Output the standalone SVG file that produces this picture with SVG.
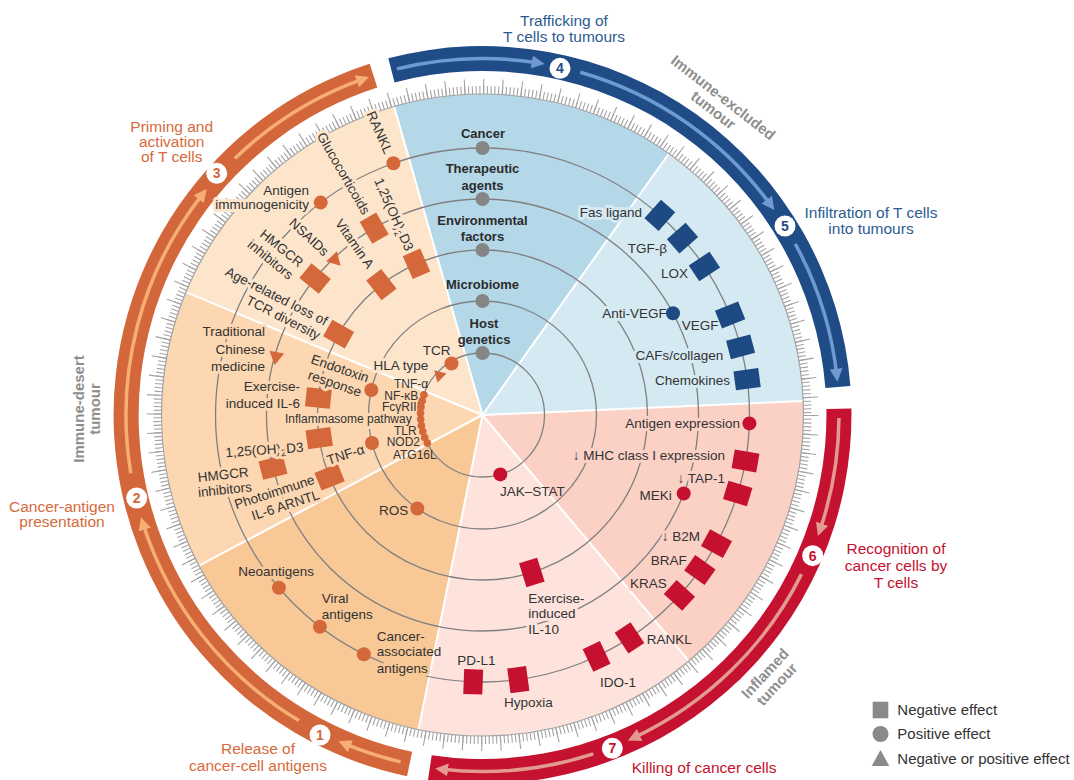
<svg xmlns="http://www.w3.org/2000/svg" width="1074" height="780" viewBox="0 0 1074 780">
<defs>
<style>
text{font-family:"Liberation Sans",Arial,sans-serif}
.l{font-size:13.5px;fill:#333}
.lc{font-size:12px;fill:#333;text-anchor:end}
.h{paint-order:stroke;stroke-width:6px;stroke-linejoin:round}
.hlp{stroke:#fde5cc}.hmp{stroke:#fcd7b1}.hdp{stroke:#f9c897}.hlpk{stroke:#fde3dc}.hpk{stroke:#fbd0c5}.hlb{stroke:#d5e9f2}
.rb{font-size:13px;font-weight:bold;fill:#2b2b2b;text-anchor:middle}
.ring{fill:none;stroke:#808080;stroke-width:1.3}
.o{fill:#d4683a}.n{fill:#1e4a84}.r{fill:#c5112f}.g{fill:#858585}
.wl{stroke:#fff;stroke-width:2}
.po{fill:#d66a3c;font-size:15.5px;text-anchor:middle}
.pb{fill:#2c5b93;font-size:15.5px;text-anchor:middle}
.pr{fill:#c5112f;font-size:15.5px;text-anchor:middle}
.prs{fill:#c5112f;font-size:15.5px}
.tm{fill:#8e8e8e;font-size:15px;font-weight:bold;text-anchor:middle}
.num{font-size:14px;font-weight:bold;text-anchor:middle}
.lgt{font-size:15px;fill:#333}
.lo{fill:none;stroke:#f6ae72;stroke-width:3.5}
.lb{fill:none;stroke:#6f9ad0;stroke-width:3.5}
.lr{fill:none;stroke:#e39a8f;stroke-width:3.5}
</style>
<marker id="mo" viewBox="0 0 10 10" refX="6" refY="5" markerWidth="13" markerHeight="13" markerUnits="userSpaceOnUse" orient="auto"><path d="M0,0 L10,5 L0,10 Z" fill="#f6ae72"/></marker>
<marker id="mb" viewBox="0 0 10 10" refX="6" refY="5" markerWidth="13" markerHeight="13" markerUnits="userSpaceOnUse" orient="auto"><path d="M0,0 L10,5 L0,10 Z" fill="#6f9ad0"/></marker>
<marker id="mr" viewBox="0 0 10 10" refX="6" refY="5" markerWidth="13" markerHeight="13" markerUnits="userSpaceOnUse" orient="auto"><path d="M0,0 L10,5 L0,10 Z" fill="#e39a8f"/></marker>
<rect id="sq" x="-12.5" y="-9.5" width="25" height="19"/>
<path id="tri" d="M0,-8 L7.5,5 L-7.5,5 Z"/>
</defs>
<rect width="1074" height="780" fill="#fff"/>

<g id="sectors">
<path d="M482.5,415 L185.9,292.2 A321,321 0 0 1 394.0,106.4 Z" fill="#fde5cc"/>
<path d="M482.5,415 L394.0,106.4 A321,321 0 0 1 668.9,153.7 Z" fill="#b5d8e9"/>
<path d="M482.5,415 L668.9,153.7 A321,321 0 0 1 803.2,401.0 Z" fill="#d5e9f2"/>
<path d="M482.5,415 L803.2,401.0 A321,321 0 0 1 688.8,660.9 Z" fill="#fbd0c5"/>
<path d="M482.5,415 L688.8,660.9 A321,321 0 0 1 418.5,729.5 Z" fill="#fde3dc"/>
<path d="M482.5,415 L418.5,729.5 A321,321 0 0 1 199.1,565.7 Z" fill="#f9c897"/>
<path d="M482.5,415 L199.1,565.7 A321,321 0 0 1 185.9,292.2 Z" fill="#fcd7b1"/>
<g class="wl">
<line x1="482.5" y1="415" x2="185.9" y2="292.2"/><line x1="482.5" y1="415" x2="394.0" y2="106.4"/>
<line x1="482.5" y1="415" x2="668.9" y2="153.7"/><line x1="482.5" y1="415" x2="803.2" y2="401.0"/>
<line x1="482.5" y1="415" x2="688.8" y2="660.9"/><line x1="482.5" y1="415" x2="418.5" y2="729.5"/>
<line x1="482.5" y1="415" x2="199.1" y2="565.7"/>
</g>
</g>

<g id="ticks" fill="none" stroke="#a3a3a3">
<circle cx="482.5" cy="415" r="321" stroke-width="1.2"/>
<circle cx="482.5" cy="415" r="325" stroke-width="8" stroke-dasharray="1.1 2.6815"/>
<circle cx="482.5" cy="415" r="328.5" stroke-width="15" stroke-dasharray="1.1 18.0114"/>
</g>

<g id="bands">
<path id="band-orange" d="M407.0,776.2 A369,369 0 0 1 369.7,63.7 L377.3,87.5 A344,344 0 0 0 412.2,751.7 Z" fill="#d3673b"/>
<path id="band-blue" d="M388.3,58.3 A369,369 0 0 1 850.4,386.0 L825.4,388.0 A344,344 0 0 0 394.6,82.4 Z" fill="#1f4c86"/>
<path id="band-red" d="M851.4,408.6 A369,369 0 0 1 428.0,779.9 L431.7,755.2 A344,344 0 0 0 826.4,409.0 Z" fill="#c51230"/>
</g>

<g id="connectors">
<circle class="ring" cx="482.5" cy="415" r="267"/>
<circle class="ring" cx="482.5" cy="415" r="216"/>
<circle class="ring" cx="482.5" cy="415" r="165"/>
<circle class="ring" cx="482.5" cy="415" r="114"/>
<circle class="ring" cx="482.5" cy="415" r="62"/>
<path class="lo" marker-end="url(#mo)" d="M400.5,761.9 A356.5,356.5 0 0 1 343.2,743.2"/>
<path class="lo" marker-end="url(#mo)" d="M298.9,720.6 A356.5,356.5 0 0 1 142.5,522.2"/>
<path class="lo" marker-end="url(#mo)" d="M130.8,473.2 A356.5,356.5 0 0 1 203.5,193.1"/>
<path class="lo" marker-end="url(#mo)" d="M234.8,158.6 A356.5,356.5 0 0 1 364.1,78.7"/>
<path class="lb" marker-end="url(#mb)" d="M396.9,68.9 A356.5,356.5 0 0 1 539.5,63.1"/>
<path class="lb" marker-end="url(#mb)" d="M580.2,72.2 A356.5,356.5 0 0 1 771.3,205.9"/>
<path class="lb" marker-end="url(#mb)" d="M795.2,243.8 A356.5,356.5 0 0 1 836.9,376.5"/>
<path class="lr" marker-end="url(#mr)" d="M839.0,418.1 A356.5,356.5 0 0 1 819.6,531.1"/>
<path class="lr" marker-end="url(#mr)" d="M801.5,574.1 A356.5,356.5 0 0 1 632.6,738.3"/>
<path class="lr" marker-end="url(#mr)" d="M593.3,753.9 A356.5,356.5 0 0 1 440.3,769.0"/>
</g>

<g id="steps">
<g id="step1"><circle cx="320" cy="735" r="10.5" fill="#fff"/><text class="num" x="320" y="740" fill="#d3673b">1</text></g>
<g id="step2"><circle cx="136.7" cy="498" r="10.5" fill="#fff"/><text class="num" x="136.7" y="503" fill="#d3673b">2</text></g>
<g id="step3"><circle cx="216.7" cy="173.3" r="10.5" fill="#fff"/><text class="num" x="216.7" y="178.3" fill="#d3673b">3</text></g>
<g id="step4"><circle cx="560" cy="68.3" r="10.5" fill="#fff"/><text class="num" x="560" y="73.3" fill="#1f4c86">4</text></g>
<g id="step5"><circle cx="785" cy="226" r="10.5" fill="#fff"/><text class="num" x="785" y="231" fill="#1f4c86">5</text></g>
<g id="step6"><circle cx="812.7" cy="555.7" r="10.5" fill="#fff"/><text class="num" x="812.7" y="560.7" fill="#c51230">6</text></g>
<g id="step7"><circle cx="612.3" cy="748.3" r="10.5" fill="#fff"/><text class="num" x="612.3" y="753.3" fill="#c51230">7</text></g>
</g>

<g id="phase-labels">
<text class="po" x="171.7" y="131.5">Priming and</text>
<text class="po" x="171.7" y="147.2">activation</text>
<text class="po" x="171.7" y="162.2">of T cells</text>
<text class="po" x="62" y="511.5">Cancer-antigen</text>
<text class="po" x="62" y="527.2">presentation</text>
<text class="po" x="258" y="753.8">Release of</text>
<text class="po" x="258" y="770.5">cancer-cell antigens</text>
<text class="pb" x="564" y="26.2">Trafficking of</text>
<text class="pb" x="564" y="42.2">T cells to tumours</text>
<text class="pb" x="871" y="217.8">Infiltration of T cells</text>
<text class="pb" x="871" y="233.8">into tumours</text>
<text class="pr" x="896" y="553.8">Recognition of</text>
<text class="pr" x="896" y="571.2">cancer cells by</text>
<text class="pr" x="896" y="588.2">T cells</text>
<text class="prs" x="631.7" y="773.2">Killing of cancer cells</text>
<text class="tm" transform="translate(78.3,409) rotate(-90)" dy=".35em">Immune-desert</text>
<text class="tm" transform="translate(94.3,409) rotate(-90)" dy=".35em">tumour</text>
<g class="tm" transform="translate(723.3,97.5) rotate(38)"><text dy=".35em">Immune-excluded</text><text y="16" dy=".35em">tumour</text></g>
<g class="tm" transform="translate(765,673.3) rotate(-47)"><text dy=".35em">Inflamed</text><text y="16" dy=".35em">tumour</text></g>
</g>

<g id="ring-labels">
<g id="ring-cancer"><text class="rb" x="483" y="138">Cancer</text><circle class="g" cx="482.5" cy="148" r="7"/></g>
<g id="ring-therapeutic"><text class="rb" x="482.5" y="173">Therapeutic</text><text class="rb" x="482.5" y="189.7">agents</text><circle class="g" cx="482.5" cy="199" r="7"/></g>
<g id="ring-environmental"><text class="rb" x="482.5" y="224.7">Environmental</text><text class="rb" x="482.5" y="241.3">factors</text><circle class="g" cx="482.5" cy="250" r="7"/></g>
<g id="ring-microbiome"><text class="rb" x="482.5" y="288.5">Microbiome</text><circle class="g" cx="482.5" cy="301" r="7"/></g>
<g id="ring-host"><text class="rb" x="484" y="328">Host</text><text class="rb" x="484" y="344">genetics</text><circle class="g" cx="482.5" cy="353" r="7"/></g>
</g>

<g id="nodes">
<g id="fas-ligand"><text class="l h hlb" x="642" y="217" text-anchor="end">Fas ligand</text><use href="#sq" class="n" transform="translate(659.8,215.3) rotate(-48.4)"/></g>
<g id="tgf-beta"><text class="l h hlb" x="667" y="253" text-anchor="end">TGF-β</text><use href="#sq" class="n" transform="translate(682.5,238.1) rotate(-41.5)"/></g>
<g id="lox"><text class="l h hlb" x="688" y="278" text-anchor="end">LOX</text><use href="#sq" class="n" transform="translate(704.4,266.5) rotate(-33.8)"/></g>
<g id="vegf"><text class="l h hlb" x="681.7" y="329.7">VEGF</text><use href="#sq" class="n" transform="translate(730.1,315) rotate(-22)"/></g>
<g id="cafs"><text class="l h hlb" x="723.3" y="359.7" text-anchor="end">CAFs/collagen</text><use href="#sq" class="n" transform="translate(740.6,346.8) rotate(-14.8)"/></g>
<g id="chemokines"><text class="l h hlb" x="730" y="384.7" text-anchor="end">Chemokines</text><use href="#sq" class="n" transform="translate(747.1,379.2) rotate(-7.7)"/></g>
<g id="anti-vegf"><text class="l h hlb" x="666.7" y="318" text-anchor="end">Anti-VEGF</text><circle class="n" cx="673" cy="313.3" r="7"/></g>
<g id="antigen-expression"><text class="l h hpk" x="740" y="428" text-anchor="end">Antigen expression</text><circle class="r" cx="749.4" cy="423.4" r="7"/></g>
<g id="mhc"><text class="l h hpk" x="725" y="459.7" text-anchor="end">↓ MHC class I expression</text><use href="#sq" class="r" transform="translate(745.5,460.9) rotate(9.9)"/></g>
<g id="tap1"><text class="l h hpk" x="725" y="483" text-anchor="end">↓ TAP-1</text><use href="#sq" class="r" transform="translate(737.7,493.5) rotate(17.1)"/></g>
<g id="meki"><text class="l h hpk" x="671.7" y="499.7" text-anchor="end">MEKi</text><circle class="r" cx="683.7" cy="493.5" r="7"/></g>
<g id="b2m"><text class="l h hpk" x="700" y="541.4" text-anchor="end">↓ B2M</text><use href="#sq" class="r" transform="translate(716.5,543.6) rotate(28.8)"/></g>
<g id="braf"><text class="l h hpk" x="686.7" y="564.7" text-anchor="end">BRAF</text><use href="#sq" class="r" transform="translate(699.9,570) rotate(35.5)"/></g>
<g id="kras"><text class="l h hpk" x="666.7" y="588" text-anchor="end">KRAS</text><use href="#sq" class="r" transform="translate(679.4,595.4) rotate(42.5)"/></g>
<g id="rankl-2"><text class="l" x="646.7" y="643.7">RANKL</text><use href="#sq" class="r" transform="translate(629.5,637.9) rotate(56.6)"/></g>
<g id="ido1"><text class="l h hlpk" x="600" y="687.4">IDO-1</text><use href="#sq" class="r" transform="translate(596.6,656.4) rotate(64.7)"/></g>
<g id="hypoxia"><text class="l h hlpk" x="504" y="707.4">Hypoxia</text><use href="#sq" class="r" transform="translate(518.3,679.6) rotate(82.3)"/></g>
<g id="pd-l1"><text class="l h hlpk" x="457.3" y="665.4">PD-L1</text><use href="#sq" class="r" transform="translate(473.2,681.8) rotate(92)"/></g>
<g id="il-10"><text class="l h hlpk" x="528.3" y="603">Exercise-</text><text class="l h hlpk" x="528.3" y="618">induced</text><text class="l h hlpk" x="528.3" y="634">IL-10</text><use href="#sq" class="r" transform="translate(531.8,572.4) rotate(72.6)"/></g>
<g id="jak-stat"><text class="l" x="500" y="496.4">JAK–STAT</text><circle class="r" cx="500.3" cy="474.4" r="7"/></g>
<g id="rankl-1"><text class="l h hlp" transform="translate(389,153) rotate(66)" text-anchor="end" dy=".35em">RANKL</text><circle class="o" cx="393.4" cy="163.3" r="7"/></g>
<g id="antigen-immunogenicity"><text class="l h hlp" x="309" y="194.7" text-anchor="end">Antigen</text><text class="l h hlp" x="309" y="208.7" text-anchor="end">immunogenicity</text><circle class="o" cx="320.7" cy="202.6" r="7"/></g>
<g id="neoantigens"><text class="l h hdp" x="238.3" y="576.4">Neoantigens</text><circle class="o" cx="278.9" cy="587.7" r="7"/></g>
<g id="viral-antigens"><text class="l h hdp" x="321.7" y="603">Viral</text><text class="l h hdp" x="321.7" y="619">antigens</text><circle class="o" cx="319.9" cy="626.8" r="7"/></g>
<g id="cancer-associated"><text class="l" x="376.7" y="640.7">Cancer-</text><text class="l" x="376.7" y="656.4">associated</text><text class="l h hdp" x="376.7" y="673">antigens</text><circle class="o" cx="363.8" cy="654.2" r="7"/></g>
<g id="glucocorticoids"><text class="l h hlp" transform="translate(366.7,213.3) rotate(60)" text-anchor="end" dy=".35em">Glucocorticoids</text><use href="#sq" class="o" transform="translate(374.2,228.1) rotate(-120.1)"/></g>
<g id="nsaids"><text class="l h hlp" transform="translate(326.7,253.3) rotate(43)" text-anchor="end" dy=".35em">NSAIDs</text><use href="#tri" class="o" transform="translate(335,260) rotate(136)"/></g>
<g id="hmgcr-1"><g class="l h hlp" transform="translate(301.6,264.1) rotate(39)" text-anchor="end"><text dy=".35em">HMGCR</text><text y="16" dy=".35em">inhibitors</text></g><use href="#sq" class="o" transform="translate(315.1,278.5) rotate(-140.8)"/></g>
<g id="tcm"><text class="l h hmp" x="265" y="336.4" text-anchor="end">Traditional</text><text class="l h hmp" x="265" y="353.7" text-anchor="end">Chinese</text><text class="l h hmp" x="265" y="371.4" text-anchor="end">medicine</text><use href="#tri" class="o" transform="translate(276,357) rotate(190)"/></g>
<g id="hmgcr-2"><g class="l h hmp" transform="translate(224,482) rotate(-6)" text-anchor="middle"><text y="-7.5" dy=".35em">HMGCR</text><text y="7.5" dy=".35em">inhibitors</text></g><use href="#sq" class="o" transform="translate(273,467.6) rotate(165.9)"/></g>
<g id="vitd-1"><text class="l h hlp" transform="translate(410,250) rotate(66)" text-anchor="end" dy=".35em">1,25(OH)<tspan font-size="9.5" dy="3">2</tspan><tspan dy="-3">D3</tspan></text><use href="#sq" class="o" transform="translate(416.5,263.8) rotate(-113.6)"/></g>
<g id="vitamin-a"><text class="l h hlp" transform="translate(371,267) rotate(55)" text-anchor="end" dy=".35em">Vitamin A</text><use href="#sq" class="o" transform="translate(381.4,284.6) rotate(-127.8)"/></g>
<g id="tcr-diversity"><g class="l h hlp" transform="translate(326.7,321.7) rotate(27)" text-anchor="end"><text dy=".35em">Age-related loss of</text><text y="16" dy=".35em">TCR diversity</text></g><use href="#sq" class="o" transform="translate(338.6,334.2) rotate(-150.7)"/></g>
<g id="il-6"><text class="l h hmp" x="300" y="391.4" text-anchor="end">Exercise-</text><text class="l h hmp" x="300" y="408" text-anchor="end">induced IL-6</text><use href="#sq" class="o" transform="translate(318.4,398) rotate(-174.1)"/></g>
<g id="vitd-2"><text class="l h hmp" transform="translate(303.3,447) rotate(-4)" text-anchor="end" dy=".35em">1,25(OH)<tspan font-size="9.5" dy="3">2</tspan><tspan dy="-3">D3</tspan></text><use href="#sq" class="o" transform="translate(319.2,438.2) rotate(171.9)"/></g>
<g id="photoimmune"><g class="l h hmp" transform="translate(314,479) rotate(-18)" text-anchor="end"><text dy=".35em">Photoimmune</text><text y="16" dy=".35em">IL-6 ARNTL</text></g><use href="#sq" class="o" transform="translate(329.6,477.1) rotate(157.9)"/></g>
<g id="endotoxin"><g class="l h hmp" transform="translate(340,368.3) rotate(19)" text-anchor="middle"><text dy=".35em">Endotoxin</text><text y="16" dy=".35em">response</text></g><circle class="o" cx="371.3" cy="390" r="7"/></g>
<g id="tnf-microbiome"><text class="l h hmp" transform="translate(364,448.5) rotate(-18)" text-anchor="end" dy=".35em">TNF-α</text><circle class="o" cx="372" cy="443" r="7"/></g>
<g id="ros"><text class="l h hdp" x="408.3" y="514.7" text-anchor="end">ROS</text><circle class="o" cx="417.3" cy="508.5" r="7"/></g>
<g id="tcr"><text class="l h hlp" x="436.7" y="354.7" text-anchor="middle">TCR</text><circle class="o" cx="451.5" cy="363.5" r="7"/></g>
<g id="hla-type"><text class="l h hlp" x="428.3" y="369.7" text-anchor="end">HLA type</text><use href="#tri" class="o" transform="translate(439,375) scale(0.85) rotate(-45)"/></g>
<g id="host-column">
<text class="lc h hmp" x="411.7" y="423">Inflammasome pathway</text>
<text class="lc" x="428.3" y="388">TNF-α</text>
<text class="lc" x="418.3" y="399.7">NF-κB</text>
<text class="lc" x="420" y="411.4">FcγRIII</text>
<text class="lc" x="416.7" y="434.7">TLR</text>
<text class="lc" x="420" y="446.4">NOD2</text>
<text class="lc" x="436.7" y="458.7">ATG16L</text>
<g class="o">
<circle cx="423.9" cy="394.8" r="3.8"/><circle cx="422.2" cy="400.8" r="3.8"/><circle cx="421" cy="406.9" r="3.8"/>
<circle cx="420.5" cy="413.1" r="3.8"/><circle cx="420.7" cy="419.3" r="3.8"/><circle cx="421.4" cy="425.5" r="3.8"/>
<circle cx="422.8" cy="431.6" r="3.8"/><circle cx="424.7" cy="437.5" r="3.8"/><circle cx="427.3" cy="443.1" r="3.8"/>
</g>
</g>
</g>

<g id="legend">
<rect x="872.7" y="701.7" width="15.6" height="16.6" fill="#8a8a8a"/>
<circle cx="880.5" cy="734" r="8" fill="#8a8a8a"/>
<path d="M871.7,766 L889.3,766 L880.5,750 Z" fill="#8a8a8a"/>
<text class="lgt" x="897.3" y="714.5">Negative effect</text>
<text class="lgt" x="897.3" y="739.2">Positive effect</text>
<text class="lgt" x="897.3" y="763.5">Negative or positive effect</text>
</g>
</svg>
